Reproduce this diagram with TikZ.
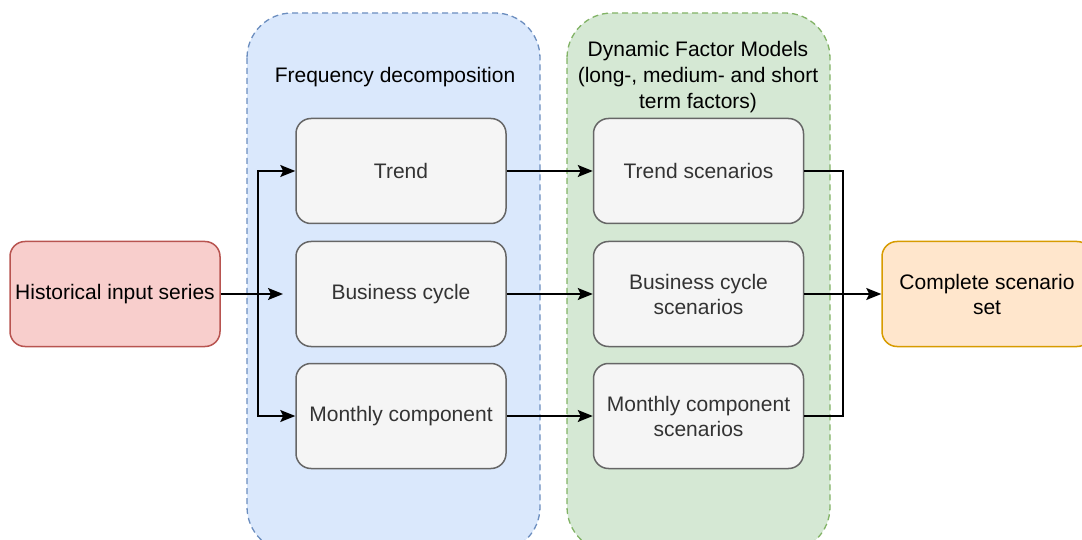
\documentclass[tikz,border=0pt]{standalone}
\usepackage{fontspec}
\setmainfont{Liberation Sans}
\usetikzlibrary{arrows.meta}

\definecolor{grpBlueFill}{HTML}{DAE8FC}
\definecolor{grpBlueLine}{HTML}{6C8EBF}
\definecolor{grpGreenFill}{HTML}{D5E8D4}
\definecolor{grpGreenLine}{HTML}{82B366}
\definecolor{boxFill}{HTML}{F5F5F5}
\definecolor{boxLine}{HTML}{666666}
\definecolor{boxText}{HTML}{333333}
\definecolor{inFill}{HTML}{F8CECC}
\definecolor{inLine}{HTML}{B85450}
\definecolor{outFill}{HTML}{FFE6CC}
\definecolor{outLine}{HTML}{D79B00}

\tikzset{
  group/.style={line width=1.3pt, dash pattern=on 6pt off 4pt, rounded corners=45pt},
  stagebox/.style={draw=boxLine, fill=boxFill, line width=1.5pt, rounded corners=15pt,
    minimum width=210pt, minimum height=105pt, text=boxText, align=center,
    font=\fontsize{21}{25}\selectfont},
  endbox/.style={line width=1.5pt, rounded corners=15pt,
    minimum width=210pt, minimum height=105pt, align=center,
    font=\fontsize{21}{25}\selectfont},
  title/.style={align=center, font=\fontsize{21}{26}\selectfont},
  flow/.style={line width=1.4pt, -{Stealth[length=15pt,width=12pt,inset=3pt]}},
  link/.style={line width=1.4pt}
}

\begin{document}
\begin{tikzpicture}[x=1pt,y=-1pt]
\useasboundingbox (0,0) rectangle (1082,540);
\clip (0,0) rectangle (1082,540);

% group containers
\draw[group, draw=grpBlueLine, fill=grpBlueFill] (247,13) rectangle (540,552);
\draw[group, draw=grpGreenLine, fill=grpGreenFill] (567,13) rectangle (830,552);

\node[title] (tfreq) at (395,77) {Frequency decomposition};
\node[title] (tdfm) at (698,77) {Dynamic Factor Models\\(long-, medium- and short\\term factors)};

% input and output
\node[endbox, draw=inLine, fill=inFill] (hist) at (115,294) {Historical input series};
\node[endbox, draw=outLine, fill=outFill] (full) at (987,294) {Complete scenario\\set};

% decomposition components
\node[stagebox] (trend) at (401,171) {Trend};
\node[stagebox] (cycle) at (401,294) {Business cycle};
\node[stagebox] (month) at (401,416) {Monthly component};

% scenario generation
\node[stagebox] (trendS) at (698.5,171) {Trend scenarios};
\node[stagebox] (cycleS) at (698.5,294) {Business cycle\\scenarios};
\node[stagebox] (monthS) at (698.5,416) {Monthly component\\scenarios};

% input fan-out
\coordinate (split) at (258,294);
\coordinate (cycleIn) at (283,294);
\draw[flow] (hist.east) -- (cycleIn);
\draw[flow] (split) |- (trend.west);
\draw[flow] (split) |- (month.west);

% components to scenario models
\draw[flow] (trend.east) -- (trendS.west);
\draw[flow] (cycle.east) -- (cycleS.west);
\draw[flow] (month.east) -- (monthS.west);

% merge into the complete set
\coordinate (merge) at (843,294);
\draw[link] (trendS.east) -| (merge) |- (monthS.east);
\draw[flow] (cycleS.east) -- (full.west);
\end{tikzpicture}
\end{document}
